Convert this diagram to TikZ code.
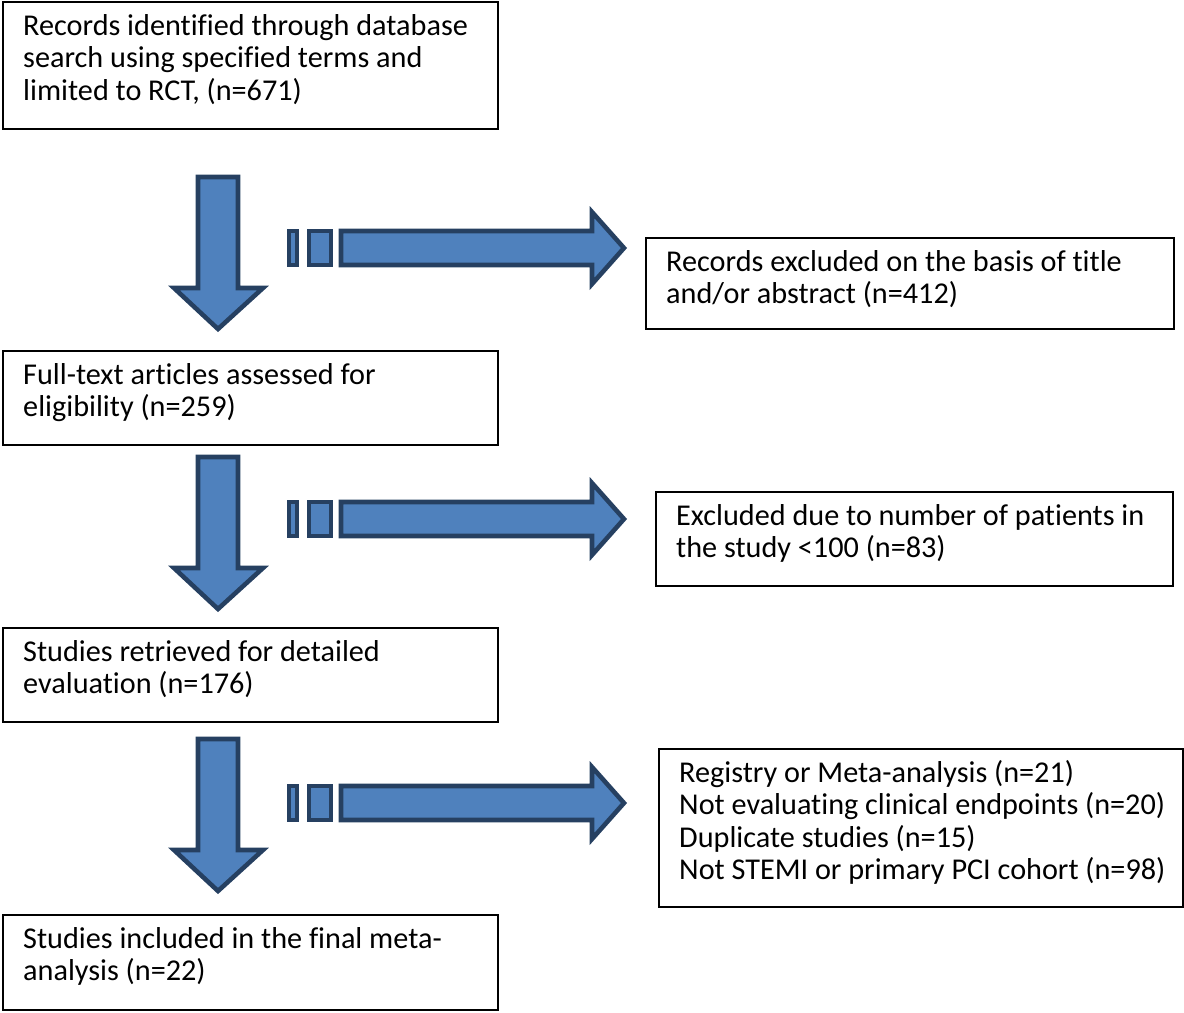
\documentclass[tikz,border=0pt]{standalone}
\usepackage{fontspec}
\setmainfont[Ligatures=NoCommon]{Carlito}
\newlength{\pxu}
\setlength{\pxu}{0.02cm}
% texte en haut a gauche du cadre
\newcommand{\inbox}[3]{\parbox[c][#2\pxu][t]{#1\pxu}{\raggedright\leftskip=20\pxu\lineskiplimit=-20pt\rule{0pt}{33\pxu}#3\par}}
\definecolor{flechefond}{RGB}{79,129,189}
\definecolor{flechebord}{RGB}{38,64,97}
\tikzset{
	box/.style={draw=black, line width=1.4pt, inner sep=0pt, anchor=north west, font=\fontsize{17.2pt}{18.5pt}\selectfont},
	bloc/.style={fill=flechefond, draw=flechebord, line width=2.6pt, line join=miter}
}
\begin{document}
\begin{tikzpicture}[x=0.02cm, y=-0.02cm]
	\useasboundingbox (0,0) rectangle (1184,1012);
	
	% Cadres de gauche
	\node[box] (records) at (2,1) {\inbox{495}{127}{Records identified through database\\search using specified terms and\\limited to RCT, (n=671)}};
	\node[box] (fulltext) at (2,350) {\inbox{495}{94}{Full-text articles assessed for\\eligibility (n=259)}};
	\node[box] (retrieved) at (2,627) {\inbox{495}{94}{Studies retrieved for detailed\\evaluation (n=176)}};
	\node[box] (included) at (2,914) {\inbox{495}{95}{Studies included in the final meta-\\analysis (n=22)}};
	
	% Cadres d'exclusion
	\node[box] (exclA) at (645,237) {\inbox{528}{91}{Records excluded on the basis of title\\and/or abstract (n=412)}};
	\node[box] (exclB) at (655,491) {\inbox{517}{94}{Excluded due to number of patients in\\the study <100 (n=83)}};
	\node[box] (exclC) at (658,748) {\inbox{524}{158}{Registry or Meta-analysis (n=21)\\Not evaluating clinical endpoints (n=20)\\Duplicate studies (n=15)\\Not STEMI or primary PCI cohort (n=98)}};
	
	% Flèches
	\foreach \dt/\rc in {175/248, 455/519, 737/803} {
		\draw[bloc] (198,{\dt+2}) -- (238,{\dt+2}) -- (238,{\dt+113}) -- (263,{\dt+113}) -- (218,{\dt+154}) -- (174,{\dt+113}) -- (198,{\dt+113}) -- cycle;
		\draw[bloc] (289,{\rc-17}) rectangle (297,{\rc+17});
		\draw[bloc] (309,{\rc-17}) rectangle (331,{\rc+17});
		\draw[bloc] (341,{\rc-17}) -- (592,{\rc-17}) -- (592,{\rc-36}) -- (624,\rc) -- (592,{\rc+36}) -- (592,{\rc+17}) -- (341,{\rc+17}) -- cycle;
	}
\end{tikzpicture}
\end{document}
